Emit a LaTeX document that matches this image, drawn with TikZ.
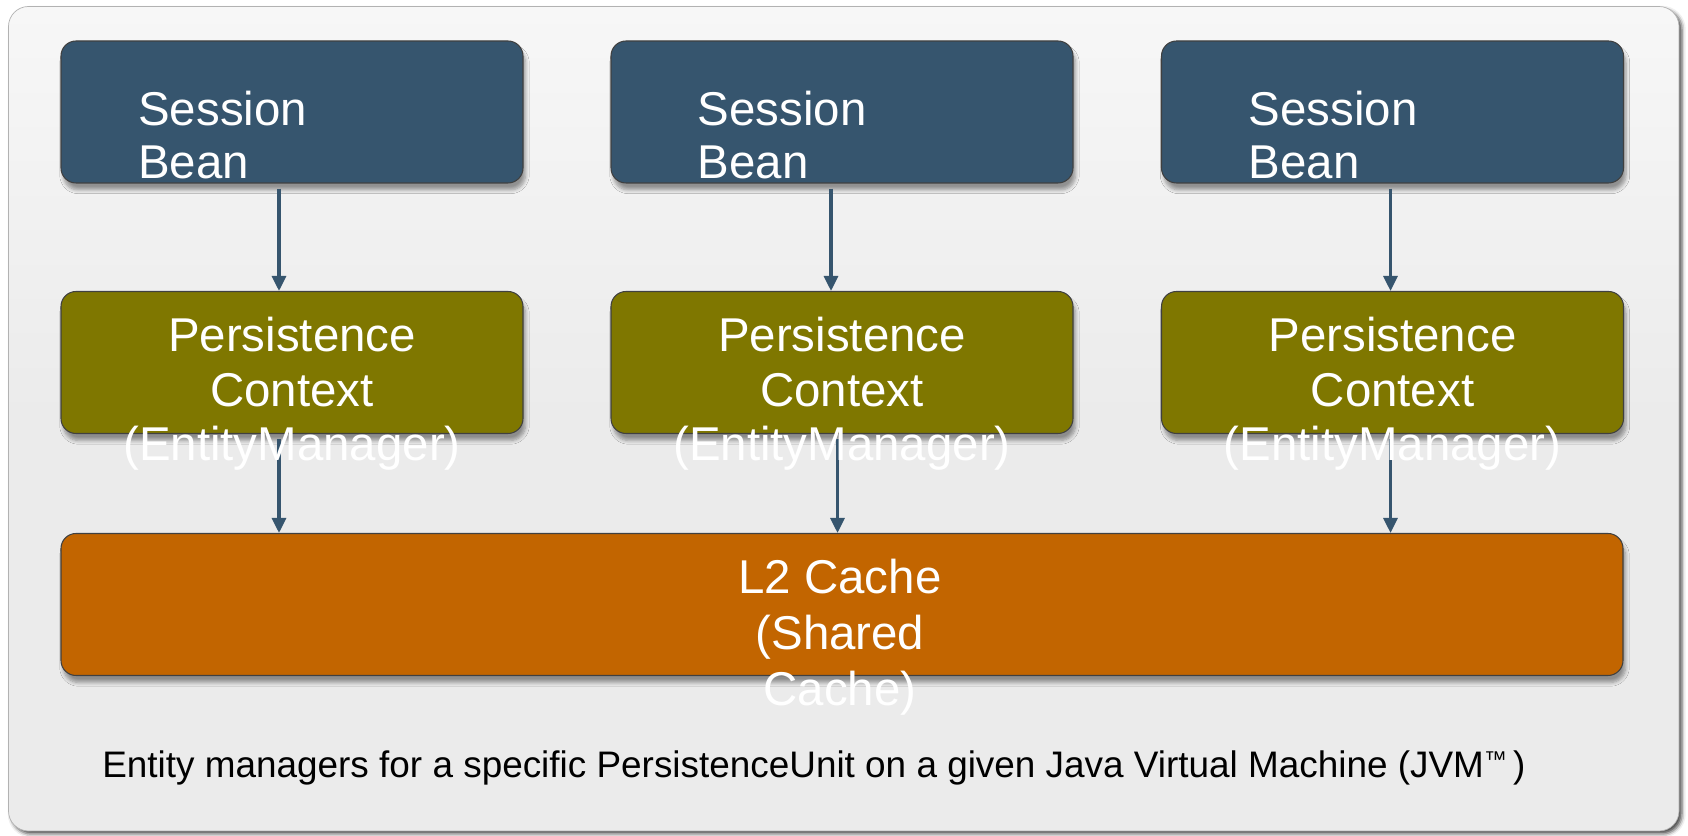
\documentclass[tikz,border=0pt]{standalone}
\usepackage{fontspec}
\setmainfont{Liberation Sans}
\usetikzlibrary{shadows.blur,arrows.meta}

\definecolor{beanblue}{RGB}{54,85,110}
\definecolor{ctxolive}{RGB}{127,119,0}
\definecolor{cacheorange}{RGB}{194,101,0}
\definecolor{panelgray}{RGB}{235,235,235}

\tikzset{
  box/.style={rounded corners=0.3cm, minimum width=9.24cm, minimum height=2.84cm,
    draw=black!75, line width=0.6pt,
    blur shadow={shadow xshift=0.05cm, shadow yshift=-0.14cm, shadow opacity=40, shadow blur steps=6}},
  beanbox/.style={box, fill=beanblue},
  ctxbox/.style={box, fill=ctxolive},
  cachebox/.style={box, fill=cacheorange, minimum width=31.24cm},
  boxtext/.style={text=white, inner sep=0pt, font=\fontsize{27}{30}\selectfont},
  flow/.style={draw=beanblue, line width=1.8pt, shorten <=0.1cm,
    -{Triangle[length=0.3cm,width=0.28cm]}}
}

\begin{document}
\begin{tikzpicture}
\useasboundingbox (0,0) rectangle (33.76,16.72);

% JVM panel
\draw[draw=gray!60, top color=white!60!panelgray, bottom color=panelgray, middle color=panelgray,
  rounded corners=0.4cm,
  blur shadow={shadow xshift=0.06cm, shadow yshift=-0.06cm, shadow opacity=70, shadow blur steps=3}]
  (0.17,0.10) rectangle (33.58,16.59);

% Session beans - top row
\node[beanbox] (sb1) at (5.84,14.48) {};
\node[beanbox] (sb2) at (16.84,14.48) {};
\node[beanbox] (sb3) at (27.85,14.48) {};
\node[boxtext, align=left, anchor=west] (sb1t) at (2.76,14.02) {Session\\Bean};
\node[boxtext, align=left, anchor=west] (sb2t) at (13.95,14.02) {Session\\Bean};
\node[boxtext, align=left, anchor=west] (sb3t) at (24.97,14.02) {Session\\Bean};

% Persistence contexts - middle row
\node[ctxbox] (pc1) at (5.84,9.47) {};
\node[ctxbox] (pc2) at (16.84,9.47) {};
\node[ctxbox] (pc3) at (27.85,9.47) {};

% L2 cache - bottom row
\node[cachebox] (l2) at (16.84,4.63) {};

% arrows
\draw[flow] ([xshift=-0.26cm]sb1.south) -- ([xshift=-0.26cm]pc1.north);
\draw[flow] ([xshift=-0.22cm]sb2.south) -- ([xshift=-0.22cm]pc2.north);
\draw[flow] ([xshift=-0.04cm]sb3.south) -- ([xshift=-0.04cm]pc3.north);
\draw[flow] ([xshift=-0.26cm]pc1.south) -- ([xshift=-0.26cm]pc1.south |- l2.north);
\draw[flow] ([xshift=-0.09cm]pc2.south) -- ([xshift=-0.09cm]pc2.south |- l2.north);
\draw[flow] ([xshift=-0.04cm]pc3.south) -- ([xshift=-0.04cm]pc3.south |- l2.north);

% labels drawn on top, they spill out of the boxes
\node[boxtext, align=center, font=\fontsize{27}{31}\selectfont] (pc1t) at (5.84,8.84) {Persistence\\Context\\(EntityManager)};
\node[boxtext, align=center, font=\fontsize{27}{31}\selectfont] (pc2t) at (16.84,8.84) {Persistence\\Context\\(EntityManager)};
\node[boxtext, align=center, font=\fontsize{27}{31}\selectfont] (pc3t) at (27.85,8.84) {Persistence\\Context\\(EntityManager)};
\node[boxtext, align=center, font=\fontsize{27}{32}\selectfont] (l2t) at (16.80,3.98) {L2 Cache\\(Shared\\Cache)};

% caption
\node[anchor=west, inner sep=0pt, font=\fontsize{21}{25}\selectfont] (cap) at (2.04,1.37)
  {Entity managers for a specific PersistenceUnit on a given Java Virtual Machine (JVM{\fontsize{13}{13}\selectfont\raisebox{0.8ex}{™}}\,)};
\end{tikzpicture}
\end{document}
